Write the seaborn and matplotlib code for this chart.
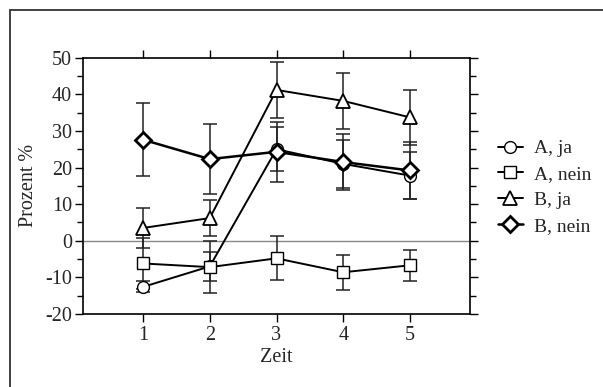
import numpy as np
import pandas as pd
import matplotlib
matplotlib.use("Agg")
import matplotlib.pyplot as plt
import seaborn as sns
from matplotlib.lines import Line2D
from matplotlib.patches import Rectangle
from matplotlib.ticker import MultipleLocator

zeit = [1, 2, 3, 4, 5]
groups = ["A, ja", "A, nein", "B, ja", "B, nein"]
a_ja = [-12.6, -7.0, 25.0, 21.0, 17.8]
a_ja_err = [1.5, 4.0, 6.0, 6.5, 6.5]
a_nein = [-6.2, -7.2, -4.8, -8.6, -6.7]
a_nein_err = [7.0, 7.2, 6.0, 4.8, 4.3]
b_ja = [3.5, 6.2, 41.2, 38.2, 33.7]
b_ja_err = [5.4, 5.0, 7.7, 7.6, 7.6]
b_nein = [27.6, 22.3, 24.3, 21.5, 19.2]
b_nein_err = [9.9, 9.6, 8.2, 7.6, 7.8]

values = [a_ja, a_nein, b_ja, b_nein]
errors = [a_ja_err, a_nein_err, b_ja_err, b_nein_err]
markers = ["o", "s", "^", "D"]
msizes = [8.5, 8.5, 10.5, 8.0]
mews = [1.0, 1.0, 1.3, 2.0]
lws = [1.4, 1.4, 1.4, 1.8]

df = pd.DataFrame({
    "Zeit": np.tile(zeit, len(groups)),
    "Prozent": np.concatenate(values),
    "Gruppe": np.repeat(groups, len(zeit)),
})

sns.set_style("ticks")
plt.rcParams["font.family"] = ["Liberation Serif", "DejaVu Serif"]
plt.rcParams["axes.unicode_minus"] = False

fig = plt.figure(figsize=(6.03, 3.87), dpi=100)
ax = fig.add_axes([83/603, 1-314/387, (470-83)/603, (314-57.7)/387])

ax.axhline(0, color="#888888", lw=1.0, zorder=1)

for g, v, e, m, ms, mew, lw in zip(groups, values, errors, markers, msizes, mews, lws):
    sub = df[df["Gruppe"] == g]
    ax.errorbar(zeit, v, yerr=e, fmt="none", ecolor="#222222", elinewidth=1.1,
                capsize=5, capthick=1.1, zorder=2)
    sns.lineplot(data=sub, x="Zeit", y="Prozent", ax=ax, color="black", lw=lw,
                 marker=m, markersize=ms, markerfacecolor="white",
                 markeredgecolor="black", markeredgewidth=mew, legend=False,
                 zorder=3)

ax.set_xlim(0.1, 5.9)
ax.set_ylim(-20, 50)
ax.set_xticks(zeit)
ax.yaxis.set_major_locator(MultipleLocator(10))
ax.yaxis.set_minor_locator(MultipleLocator(5))
ax.tick_params(axis="both", which="both", direction="out", color="black", width=1.0)
ax.tick_params(axis="y", which="major", length=6, labelsize=14.5, right=True, left=True, pad=2)
ax.tick_params(axis="y", which="minor", length=4, right=True, left=True)
ax.tick_params(axis="x", which="major", length=6, labelsize=14.5, top=True, bottom=True, pad=3)
for s in ax.spines.values():
    s.set_visible(True)
    s.set_color("black")
    s.set_linewidth(1.2)
ax.set_xlabel("Zeit", fontsize=14.5, labelpad=2)
ax.set_ylabel("Prozent %", fontsize=14.5, labelpad=5)

handles = [Line2D([0], [0], color="black", lw=lw, marker=m, markersize=ms,
                  markerfacecolor="white", markeredgecolor="black", markeredgewidth=mew)
           for m, ms, mew, lw in zip(markers, msizes, mews, lws)]
fig.legend(handles, groups, loc="upper left", bbox_to_anchor=(490/603, 1-132/387),
           frameon=False, fontsize=14, handlelength=1.3, handletextpad=0.55,
           labelspacing=0.42, borderaxespad=0)

fig.patches.append(Rectangle((10/603, -0.1), 1.2, 1-10/387+0.1, transform=fig.transFigure,
                             fill=False, edgecolor="#333333", lw=1.3, figure=fig))

fig.savefig("out.png", dpi=100)
